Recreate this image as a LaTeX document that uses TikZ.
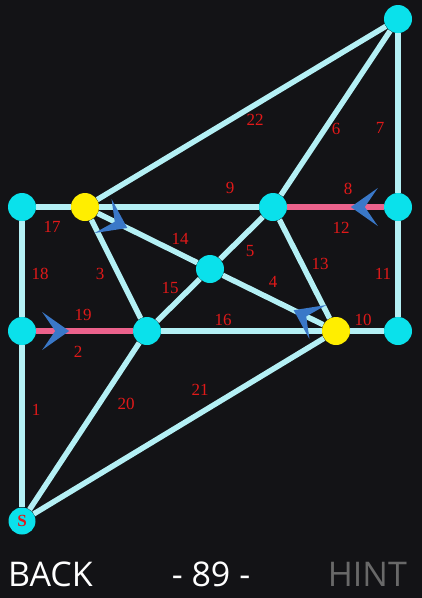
\documentclass[tikz,border=0pt]{standalone}
\usepackage{fontspec}
\setmainfont{Open Sans}
\newfontfamily\numfont{Liberation Serif}
\usetikzlibrary{backgrounds,decorations.markings}
\definecolor{board}{RGB}{19,19,22}
\definecolor{wire}{RGB}{180,240,245}
\definecolor{pinkwire}{RGB}{236,98,140}
\definecolor{dotcyan}{RGB}{10,225,235}
\definecolor{dotyellow}{RGB}{255,238,0}
\definecolor{chevron}{RGB}{58,120,200}
\definecolor{numred}{RGB}{225,25,25}
\definecolor{hintgray}{RGB}{105,105,105}

\begin{document}
\begin{tikzpicture}[x=1pt,y=-1pt,
		dot/.style={circle,fill=dotcyan,minimum size=28pt,inner sep=0pt},
		golddot/.style={dot,fill=dotyellow},
		edge/.style={wire,line width=5.5pt},
		twin/.style={pinkwire,line width=5.5pt},
		oneway/.style={postaction={decorate},decoration={markings,
			mark=at position 33pt with {\fill[chevron] (0,0) -- (-27,19) -- (-14,0) -- (-27,-19) -- cycle;}}},
		num/.style={text=numred,font=\numfont\fontsize{17}{17}\selectfont,inner sep=0pt},
		menu/.style={text=white,font=\fontsize{34}{34}\selectfont,inner sep=0pt}]
		\useasboundingbox (0,0) rectangle (422,598);
		% points of the board
		\node[dot] (T) at (398,19) {};
		\node[dot] (A) at (22,207) {};
		\node[golddot] (Y1) at (85,207) {};
		\node[dot] (B) at (273,207) {};
		\node[dot] (C) at (398,207) {};
		\node[dot] (M) at (210,269) {};
		\node[dot] (D) at (22,331) {};
		\node[dot] (E) at (147,331) {};
		\node[golddot] (Y2) at (336,331) {};
		\node[dot] (F) at (398,331) {};
		\node[dot,minimum size=27pt,text=numred,font=\numfont\bfseries\fontsize{17}{17}\selectfont] (S) at (22,521) {S};
		% lines
		\begin{scope}[on background layer]
			\fill[board] (0,0) rectangle (422,598);
			\foreach \a/\b in {A/Y1,Y1/B,Y1/T,B/T,C/T,A/D,D/S,Y1/E,M/B,M/E,B/Y2,E/Y2,Y2/F,C/F,S/E,S/Y2}
				\draw[edge] (\a) -- (\b);
			\draw[edge,oneway] (Y1) -- (M);
			\draw[edge,oneway] (Y2) -- (M);
			\draw[twin,oneway] (D) -- (E);
			\draw[twin,oneway] (C) -- (B);
		\end{scope}
		% numbers
		\foreach \n/\x/\y in {22/255/120,6/336/129,7/380/128,9/230/188,8/348/189,17/52/227,14/180/239,
			12/341/228,5/250/251,18/40/274,3/100/274,13/320/264,11/383/274,4/273/282,15/170/288,
			19/83/315,16/223/320,10/363/320,2/78/352,1/36/410,20/126/404,21/200/390}
			\node[num] (n\n) at (\x,\y) {\n};
		% menu
		\node[menu,anchor=base west] (back) at (8,586) {BACK};
		\node[menu,anchor=base] (level) at (211,586) {- 89 -};
		\node[menu,anchor=base east,text=hintgray] (hint) at (407,586) {HINT};
	\end{tikzpicture}
\end{document}
